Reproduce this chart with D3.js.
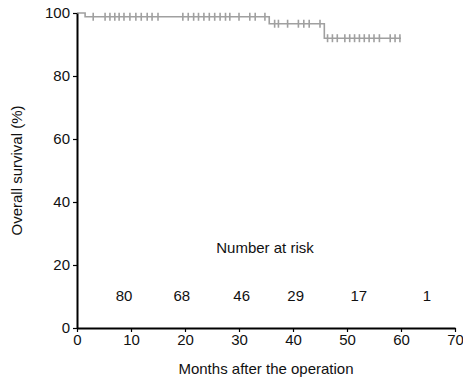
<!DOCTYPE html>
<html>
<head>
<meta charset="utf-8">
<script src="https://cdn.jsdelivr.net/npm/d3@7"></script>
<style>
  html, body { margin: 0; padding: 0; background: #fff; }
  svg text { font-family: "Liberation Sans", Arial, sans-serif; fill: #111; }
</style>
</head>
<body>
<svg id="chart" width="463" height="380"></svg>
<script>
// Kaplan–Meier estimate: event times (months) and survival (%) after each step
const eventTimes = [0, 1.5, 35.6, 45.8];
const survival = [100, 98.8, 96.6, 92.0];
const followUpEnd = 60;

// Censored observations (months)
const censorTimes = [
  3.0, 5.2, 6.1, 7.0, 7.8, 8.7, 9.8, 10.9, 11.9, 13.0, 13.9, 15.0,
  19.6, 20.6, 21.6, 22.5, 23.5, 24.5, 25.5, 26.5, 27.5, 28.3, 30.0, 32.0, 33.0, 34.8,
  36.6, 37.3, 39.0, 41.0, 42.0, 43.0, 45.0,
  46.4, 47.3, 48.2, 49.6, 50.5, 51.4, 52.3, 53.2, 54.1, 55.0, 56.0, 58.0, 58.9, 59.8
];

// Number at risk row
const riskCounts = [80, 68, 46, 29, 17, 1];
const riskTimes = [8.7, 19.4, 30.5, 40.5, 52.2, 64.8];

const xTicks = [0, 10, 20, 30, 40, 50, 60, 70];
const yTicks = [0, 20, 40, 60, 80, 100];

const svg = d3.select("#chart");
const x = d3.scaleLinear().domain([0, 70]).range([77, 455]);
const y = d3.scaleLinear().domain([0, 100]).range([328, 13]);

const curveColor = "#a0a0a0";
const fontSize = 15;

// survival level at time t
function survAt(t) {
  let s = survival[0];
  for (let i = 0; i < eventTimes.length; i++) if (eventTimes[i] <= t) s = survival[i];
  return s;
}

// step curve
const stepData = eventTimes.map((t, i) => [t, survival[i]]);
stepData.push([followUpEnd, survival[survival.length - 1]]);
svg.append("path")
  .datum(stepData)
  .attr("fill", "none")
  .attr("stroke", curveColor)
  .attr("stroke-width", 1.6)
  .attr("d", d3.line().x(d => x(d[0])).y(d => y(d[1])).curve(d3.curveStepAfter));

// censor marks
svg.append("g").selectAll("line")
  .data(censorTimes)
  .join("line")
  .attr("x1", d => x(d)).attr("x2", d => x(d))
  .attr("y1", d => y(survAt(d)) - 4)
  .attr("y2", d => y(survAt(d)) + 4)
  .attr("stroke", curveColor)
  .attr("stroke-width", 1.6);

// axes
const xAxis = svg.append("g")
  .attr("transform", `translate(0,${y(0)})`)
  .call(d3.axisBottom(x).tickValues(xTicks).tickSize(4).tickPadding(2).tickSizeOuter(0));
const yAxis = svg.append("g")
  .attr("transform", `translate(${x(0)},0)`)
  .call(d3.axisLeft(y).tickValues(yTicks).tickSize(4).tickPadding(3).tickSizeOuter(0));

[xAxis, yAxis].forEach(g => {
  g.select(".domain").attr("stroke", "#000").attr("stroke-width", 2);
  g.selectAll(".tick line").attr("stroke", "#000").attr("stroke-width", 1.2);
  g.selectAll(".tick text").attr("font-size", fontSize).attr("fill", "#111")
    .style("font-family", '"Liberation Sans", Arial, sans-serif');
});

// axis titles
svg.append("text")
  .attr("x", (x(0) + x(70)) / 2).attr("y", 374)
  .attr("text-anchor", "middle").attr("font-size", fontSize)
  .text("Months after the operation");
svg.append("text")
  .attr("transform", `translate(22,${(y(0) + y(100)) / 2}) rotate(-90)`)
  .attr("text-anchor", "middle").attr("font-size", fontSize)
  .text("Overall survival (%)");

// number at risk
svg.append("text")
  .attr("x", 265).attr("y", 253)
  .attr("text-anchor", "middle").attr("font-size", fontSize)
  .text("Number at risk");
svg.append("g").selectAll("text")
  .data(riskCounts)
  .join("text")
  .attr("x", (d, i) => x(riskTimes[i]))
  .attr("y", 301)
  .attr("text-anchor", "middle").attr("font-size", fontSize)
  .text(d => d);
</script>
</body>
</html>
